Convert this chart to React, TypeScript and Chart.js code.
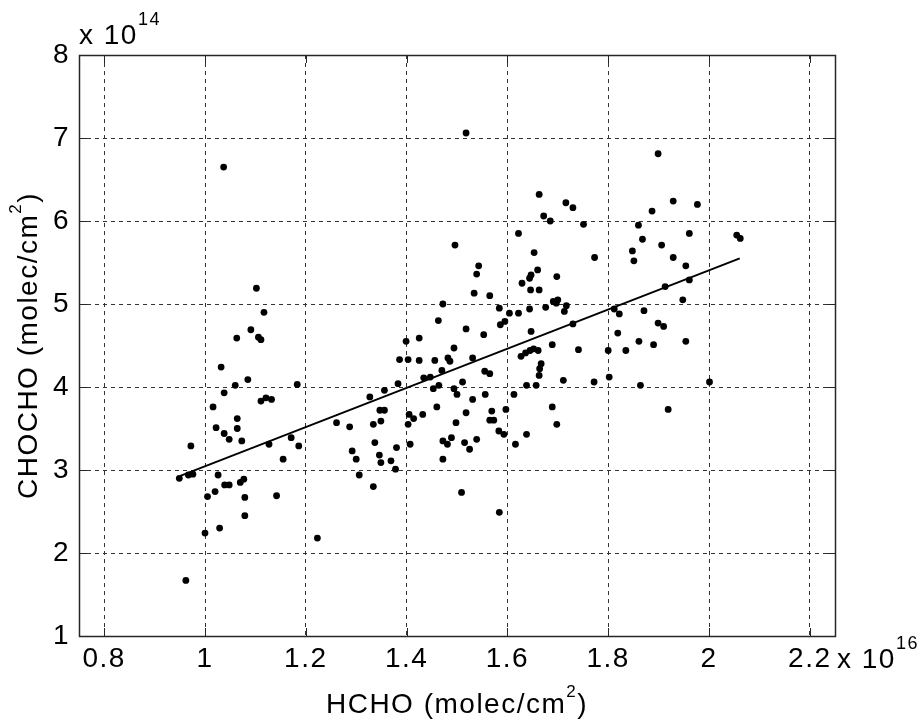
import React, { useEffect, useRef } from 'react';
import { Chart, registerables } from 'chart.js';

Chart.register(...registerables);

const FAMILY = '"Liberation Sans", Arial, sans-serif';

// HCHO (x 1e16 molec/cm2)
const hchoX = [
  1.037, 1.102, 1.117, 1.063, 1.091, 1.106, 1.111, 1.032, 1.060, 1.085, 1.038, 1.183, 1.016, 1.111, 1.121,
  1.132, 1.064, 1.022, 1.064, 1.038, 1.048, 1.073, 0.972, 1.127, 1.171, 1.186, 1.155, 0.949, 0.967, 0.976,
  1.026, 1.039, 1.048, 1.070, 1.077, 1.005, 1.020, 1.079, 1.142, 1.079, 1.029, 1.000, 0.962,
  1.496, 1.472, 1.463, 1.399, 1.425, 1.494, 1.386, 1.403, 1.425, 1.456, 1.482, 1.486, 1.470, 1.434, 1.447,
  1.383, 1.356, 1.327, 1.453, 1.464, 1.494, 1.460, 1.347, 1.356, 1.349, 1.334, 1.261, 1.287, 1.405, 1.414,
  1.432, 1.403, 1.498, 1.337, 1.380, 1.407, 1.292, 1.300, 1.346, 1.349, 1.369, 1.378, 1.306, 1.334, 1.472,
  1.481, 1.489, 1.472, 1.223,
  1.518, 1.663, 1.716, 1.730, 1.672, 1.685, 1.751, 1.622, 1.653, 1.773, 1.543, 1.539, 1.660, 1.647, 1.644,
  1.698, 1.629, 1.646, 1.663, 1.534, 1.565, 1.584, 1.604, 1.622, 1.644, 1.676, 1.691, 1.700, 1.697, 1.717,
  1.713, 1.730, 1.586, 1.595, 1.518, 1.553, 1.647, 1.689, 1.741, 1.627, 1.636, 1.645, 1.652, 1.661, 1.667,
  1.664, 1.663, 1.531, 1.555, 1.565, 1.511, 1.638, 1.657, 1.711, 1.772, 1.500, 1.531, 1.556, 1.613, 1.518,
  1.569, 1.565, 1.573, 1.597, 1.515, 1.525, 1.539, 1.583, 1.593, 1.616, 1.638, 1.689, 1.698, 1.509, 1.584,
  1.899, 1.929, 1.977, 1.887, 1.860, 1.961, 1.868, 2.055, 2.062, 1.906, 1.848, 1.851, 1.929, 1.954, 1.961,
  1.913, 1.948, 1.812, 1.822, 1.871, 1.899, 1.910, 1.819, 1.861, 1.890, 1.954, 1.800, 1.835, 1.802, 1.864,
  2.001, 1.919,
];

// CHOCHO (x 1e14 molec/cm2)
const chochoY = [
  6.65, 5.19, 4.90, 4.59, 4.69, 4.60, 4.57, 4.24, 4.02, 4.09, 3.93, 4.03, 3.76, 3.83, 3.87,
  3.85, 3.62, 3.51, 3.50, 3.44, 3.37, 3.35, 3.29, 3.31, 3.39, 3.29, 3.13, 2.90, 2.94, 2.95,
  2.94, 2.82, 2.82, 2.85, 2.89, 2.68, 2.74, 2.67, 2.69, 2.45, 2.30, 2.24, 1.67,
  5.71, 5.00, 4.80, 4.55, 4.59, 4.47, 4.33, 4.33, 4.32, 4.32, 4.35, 4.31, 4.20, 4.11, 4.12,
  4.04, 3.96, 3.88, 3.98, 4.02, 3.98, 3.76, 3.72, 3.72, 3.59, 3.55, 3.57, 3.52, 3.67, 3.62,
  3.67, 3.55, 3.57, 3.33, 3.27, 3.31, 3.23, 3.13, 3.18, 3.09, 3.11, 3.01, 2.94, 2.80, 3.35,
  3.31, 3.39, 3.13, 2.18,
  7.06, 6.32, 6.22, 6.16, 6.06, 6.00, 5.96, 5.85, 5.62, 5.56, 5.46, 5.36, 5.41, 5.35, 5.31,
  5.33, 5.25, 5.17, 5.17, 5.13, 5.10, 4.95, 4.89, 4.89, 4.94, 4.96, 5.03, 5.05, 5.01, 4.98,
  4.91, 4.76, 4.75, 4.79, 4.70, 4.63, 4.67, 4.51, 4.45, 4.37, 4.41, 4.44, 4.46, 4.44, 4.28,
  4.22, 4.14, 4.35, 4.19, 4.16, 4.06, 4.02, 4.02, 4.08, 4.06, 3.91, 3.85, 3.91, 3.91, 3.69,
  3.71, 3.60, 3.60, 3.73, 3.33, 3.25, 3.37, 3.47, 3.43, 3.31, 3.43, 3.76, 3.55, 2.73, 2.49,
  6.81, 6.24, 6.20, 6.12, 5.95, 5.85, 5.78, 5.83, 5.79, 5.71, 5.64, 5.52, 5.56, 5.46, 5.29,
  5.21, 5.05, 4.94, 4.88, 4.92, 4.77, 4.73, 4.65, 4.55, 4.51, 4.55, 4.44, 4.44, 4.12, 4.02,
  4.06, 3.73,
];

// Linear fit end points
const fitX = [0.951, 2.061];
const fitY = [2.93, 5.55];

const xTicks = [0.8, 1, 1.2, 1.4, 1.6, 1.8, 2, 2.2];
const xTickLabels = ['0.8', '1', '1.2', '1.4', '1.6', '1.8', '2', '2.2'];
const yTicks = [1, 2, 3, 4, 5, 6, 7, 8];
const yTickLabels = ['1', '2', '3', '4', '5', '6', '7', '8'];

const xTitle = ['HCHO (molec/cm', '2', ')'];
const yTitle = ['CHOCHO (molec/cm', '2', ')'];
const xExp = ['x 10', '16'];
const yExp = ['x 10', '14'];

function drawSup(ctx: CanvasRenderingContext2D, parts: string[], x: number, baseline: number,
  mainSize: number, supSize: number, raise: number, align: 'left' | 'center') {
  ctx.textAlign = 'left';
  ctx.textBaseline = 'alphabetic';
  const fonts = [mainSize, supSize, mainSize];
  const widths = parts.map((p, i) => {
    ctx.font = `${fonts[i]}px ${FAMILY}`;
    return ctx.measureText(p).width;
  });
  const total = widths.reduce((a, b) => a + b, 0);
  let cx = align === 'center' ? x - total / 2 : x;
  parts.forEach((p, i) => {
    ctx.font = `${fonts[i]}px ${FAMILY}`;
    ctx.fillText(p, cx, i === 1 ? baseline - raise : baseline);
    cx += widths[i];
  });
}

const decor = {
  id: 'decor',
  beforeDraw(chart: any) {
    (chart.ctx as any).letterSpacing = '1.5px';
  },
  afterDraw(chart: any) {
    const { ctx, chartArea, scales } = chart;
    const { left, right, top, bottom } = chartArea;
    const xs = scales.x;
    const ys = scales.y;
    ctx.save();
    ctx.setLineDash([]);
    ctx.strokeStyle = '#262626';
    ctx.lineWidth = 1;
    ctx.beginPath();
    xTicks.forEach((v) => {
      const px = Math.round(xs.getPixelForValue(v)) + 0.5;
      ctx.moveTo(px, bottom);
      ctx.lineTo(px, bottom - 8);
      ctx.moveTo(px, top);
      ctx.lineTo(px, top + 8);
    });
    yTicks.forEach((v) => {
      const py = Math.round(ys.getPixelForValue(v)) + 0.5;
      ctx.moveTo(left, py);
      ctx.lineTo(left + 8, py);
      ctx.moveTo(right, py);
      ctx.lineTo(right - 8, py);
    });
    ctx.stroke();
    ctx.lineWidth = 1.5;
    ctx.strokeRect(Math.round(left) + 0.5, Math.round(top) + 0.5, Math.round(right - left), Math.round(bottom - top));

    ctx.fillStyle = '#000';
    (ctx as any).letterSpacing = '1.5px';
    // axis titles
    drawSup(ctx, xTitle, (left + right) / 2, 713, 28, 17, 16, 'center');
    ctx.save();
    ctx.translate(37, (top + bottom) / 2);
    ctx.rotate(-Math.PI / 2);
    drawSup(ctx, yTitle, 0, 0, 28, 17, 16, 'center');
    ctx.restore();
    // exponent labels
    drawSup(ctx, [yExp[0], yExp[1], ''], left, 44, 28, 18, 19, 'left');
    drawSup(ctx, [xExp[0], xExp[1], ''], right + 2, 668, 28, 18, 19, 'left');
    ctx.restore();
  },
};

export default function App() {
  const ref = useRef<HTMLCanvasElement>(null);
  useEffect(() => {
    const points = hchoX.map((x, i) => ({ x, y: chochoY[i] }));
    const fit = fitX.map((x, i) => ({ x, y: fitY[i] }));
    const chart = new Chart(ref.current as HTMLCanvasElement, {
      type: 'scatter',
      data: {
        datasets: [
          {
            label: 'fit',
            data: fit,
            showLine: true,
            borderColor: '#000',
            borderWidth: 2,
            pointRadius: 0,
            fill: false,
          } as any,
          {
            label: 'obs',
            data: points,
            pointRadius: 3.4,
            pointBackgroundColor: '#000',
            pointBorderWidth: 0,
            borderWidth: 0,
            backgroundColor: '#000',
          },
        ],
      },
      options: {
        responsive: false,
        animation: false,
        layout: { padding: { left: 0, top: 55, right: 85, bottom: 0 } },
        plugins: { legend: { display: false }, tooltip: { enabled: false } },
        scales: {
          x: {
            type: 'linear',
            min: 0.75,
            max: 2.25,
            afterBuildTicks: (s: any) => {
              s.ticks = xTicks.map((v) => ({ value: v }));
            },
            afterFit: (s: any) => {
              s.height = 84;
            },
            ticks: {
              autoSkip: false,
              maxRotation: 0,
              padding: 6,
              color: '#000',
              font: { family: FAMILY, size: 28 },
              callback: (v: any) => {
                const i = xTicks.findIndex((t) => Math.abs(t - Number(v)) < 1e-9);
                return i >= 0 ? xTickLabels[i] : '';
              },
            },
            grid: { color: '#333', lineWidth: 1, drawTicks: false },
            border: { display: false, dash: [4, 4] },
          },
          y: {
            type: 'linear',
            min: 1,
            max: 8,
            afterBuildTicks: (s: any) => {
              s.ticks = yTicks.map((v) => ({ value: v }));
            },
            afterFit: (s: any) => {
              s.width = 79;
            },
            ticks: {
              autoSkip: false,
              padding: 9,
              color: '#000',
              font: { family: FAMILY, size: 28 },
              callback: (v: any) => {
                const i = yTicks.findIndex((t) => Math.abs(t - Number(v)) < 1e-9);
                return i >= 0 ? yTickLabels[i] : '';
              },
            },
            grid: { color: '#333', lineWidth: 1, drawTicks: false },
            border: { display: false, dash: [4, 4] },
          },
        },
      },
      plugins: [decor],
    });
    return () => chart.destroy();
  }, []);
  return (
    <div style={{ position: 'absolute', left: 0, top: 0, width: 920, height: 720, background: '#fff' }}>
      <canvas ref={ref} width={920} height={720} style={{ display: 'block' }} />
    </div>
  );
}
